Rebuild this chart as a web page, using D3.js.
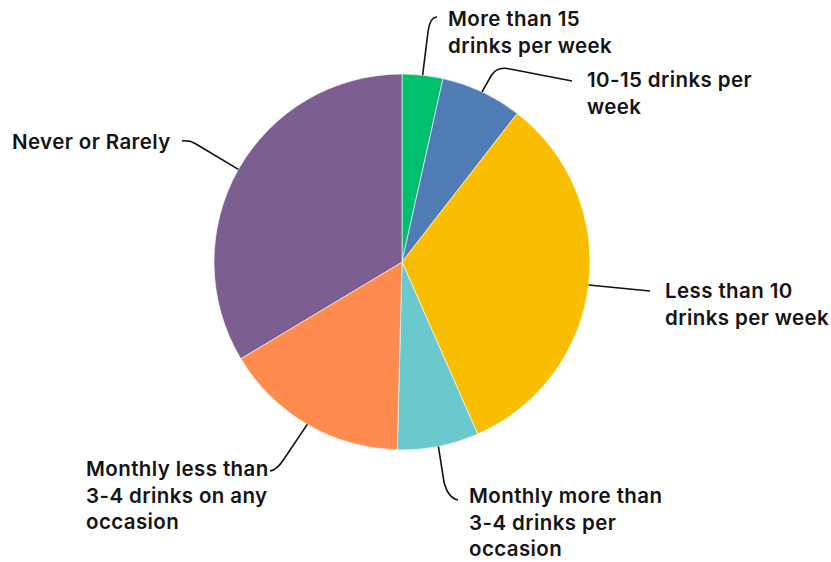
<!DOCTYPE html>
<html>
<head>
<meta charset="utf-8">
<script src="https://cdn.jsdelivr.net/npm/d3@7"></script>
<style>
  body { margin: 0; background: #fff; }
  .label { font-family: Inter, "Open Sans", sans-serif; font-weight: 600; font-size: 20.5px; letter-spacing: 0.4px; fill: #141414; }
</style>
</head>
<body>
<svg id="chart" width="831" height="562"></svg>
<script>
// Drinking frequency categories, in clockwise order from 12 o'clock
const categories = [
  "More than 15 drinks per week",
  "10-15 drinks per week",
  "Less than 10 drinks per week",
  "Monthly more than 3-4 drinks per occasion",
  "Monthly less than 3-4 drinks on any occasion",
  "Never or Rarely"
];
// Share of respondents (%)
const shares = [3.5, 7.0, 32.9, 7.0, 16.0, 33.6];
const colors = ["#00bf6f", "#507cb6", "#f9be00", "#6bc8cd", "#ff8b4f", "#7d5e90"];
// Wrapped label text for each slice
const labelLines = [
  ["More than 15", "drinks per week"],
  ["10-15 drinks per", "week"],
  ["Less than 10", "drinks per week"],
  ["Monthly more than", "3-4 drinks per", "occasion"],
  ["Monthly less than", "3-4 drinks on any", "occasion"],
  ["Never or Rarely"]
];

const width = 831, height = 562;
const cx = 402, cy = 262, radius = 188;
const lineHeight = 26.5;

// Leader-line geometry and label anchors, relative to the pie centre:
// bend = end of the straight run, ctrl/turn = rounded corner, end = tip near the text
const layout = [
  { bend: [26, -230], ctrl: [28, -245], turn: [35, -245], end: [35, -245], text: [46, -236] },
  { bend: [89, -186], ctrl: [95, -196], turn: [108, -193], end: [170, -181], text: [185, -175] },
  { bend: [248, 29], ctrl: [248, 29], turn: [248, 29], end: [248, 29], text: [263, 36] },
  { bend: [42, 220], ctrl: [46, 236], turn: [56, 238], end: [56, 238], text: [67, 241] },
  { bend: [-118, 197], ctrl: [-125, 208], turn: [-132, 209], end: [-132, 209], text: [-316, 214] },
  { bend: [-206, -118], ctrl: [-212, -122], turn: [-220, -121], end: [-220, -121], text: [-390, -113] }
];

const data = categories.map((c, i) => ({
  category: c, value: shares[i], color: colors[i], lines: labelLines[i], layout: layout[i]
}));

const svg = d3.select("#chart");
const g = svg.append("g").attr("transform", `translate(${cx},${cy})`);

const pie = d3.pie().value(d => d.value).sort(null);
const arc = d3.arc().innerRadius(0).outerRadius(radius);
const arcs = pie(data);

g.selectAll("path.slice")
  .data(arcs)
  .join("path")
  .attr("class", "slice")
  .attr("d", arc)
  .attr("fill", d => d.data.color)
  .attr("stroke", "#ffffff")
  .attr("stroke-opacity", 0.6)
  .attr("stroke-width", 1);

// Leader lines: start on the rim at each slice's mid-angle
g.selectAll("path.leader")
  .data(arcs)
  .join("path")
  .attr("class", "leader")
  .attr("fill", "none")
  .attr("stroke", "#111")
  .attr("stroke-width", 1.6)
  .attr("d", d => {
    const mid = (d.startAngle + d.endAngle) / 2;
    const sx = radius * Math.sin(mid), sy = -radius * Math.cos(mid);
    const L = d.data.layout;
    const p = d3.path();
    p.moveTo(sx, sy);
    p.lineTo(L.bend[0], L.bend[1]);
    p.quadraticCurveTo(L.ctrl[0], L.ctrl[1], L.turn[0], L.turn[1]);
    p.lineTo(L.end[0], L.end[1]);
    return p.toString();
  });

// Labels
const labels = g.selectAll("text.label")
  .data(arcs)
  .join("text")
  .attr("class", "label")
  .attr("x", d => d.data.layout.text[0])
  .attr("y", d => d.data.layout.text[1]);

labels.selectAll("tspan")
  .data(d => d.data.lines.map((t, i) => ({ t, i, x: d.data.layout.text[0] })))
  .join("tspan")
  .attr("x", d => d.x)
  .attr("dy", d => d.i === 0 ? 0 : lineHeight)
  .text(d => d.t);
</script>
</body>
</html>
